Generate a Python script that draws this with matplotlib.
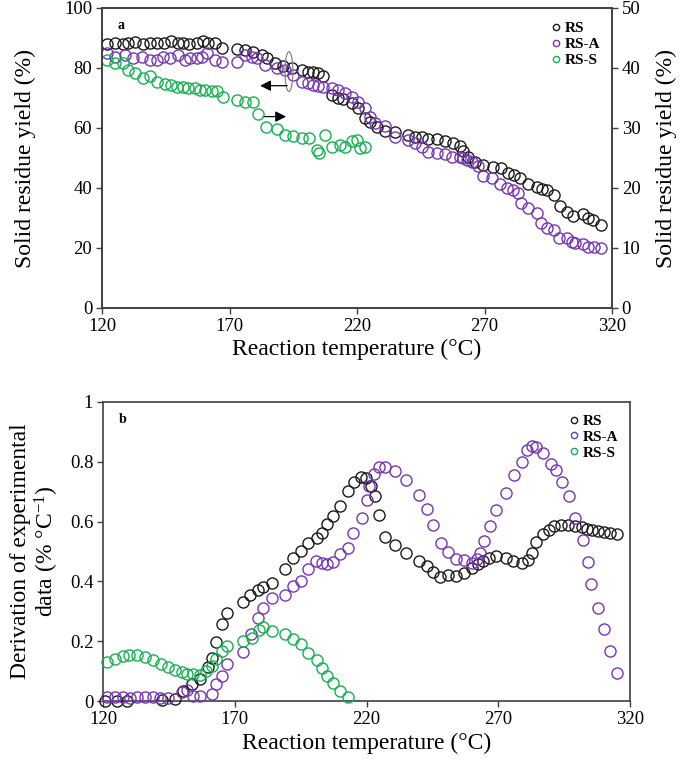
import matplotlib
matplotlib.use("Agg")
import matplotlib.pyplot as plt
from matplotlib.patches import Ellipse
from matplotlib.lines import Line2D

plt.rcParams['font.family'] = ['Liberation Serif', 'DejaVu Serif']
plt.rcParams['mathtext.fontset'] = 'custom'
plt.rcParams['mathtext.rm'] = 'Liberation Serif'
plt.rcParams['mathtext.it'] = 'Liberation Serif:italic'

# ---------------- Data: panel a (solid residue yield) ----------------
rs_a_T = [121.8, 125.1, 128.1, 130.2, 132.9, 135.9, 138.8, 141.4, 144.3, 146.9, 149.8, 151.8,
          154.1, 157.1, 159.5, 161.6, 164.3, 166.9, 172.8, 176.1, 179.3, 182.6, 184.6, 187.8,
          191.0, 194.5, 198.3, 200.9, 202.9, 204.9, 206.8, 210.0, 212.7, 214.6, 217.9, 220.5,
          223.1, 225.1, 227.7, 231.0, 234.9, 240.1, 242.7, 245.4, 248.0, 251.3, 254.5, 257.5,
          260.4, 261.4, 263.7, 266.3, 269.5, 273.2, 276.3, 279.3, 281.6, 283.9, 287.2, 290.5,
          292.4, 294.4, 297.3, 299.6, 302.2, 304.8, 308.5, 310.7, 312.7, 315.6]
rs_a_Y = [88.0, 88.4, 88.0, 88.2, 88.8, 88.0, 88.4, 88.2, 88.4, 89.1, 88.2, 88.4,
          88.0, 88.2, 89.1, 88.4, 88.4, 86.8, 86.2, 86.0, 85.4, 84.3, 83.2, 81.7,
          80.7, 80.0, 79.3, 78.8, 78.8, 78.2, 77.3, 71.0, 69.9, 69.6, 68.2, 66.6,
          63.2, 62.1, 60.4, 59.0, 58.8, 57.7, 57.1, 56.9, 56.2, 56.2, 55.7, 54.9,
          54.0, 52.4, 50.4, 48.8, 47.7, 46.9, 46.6, 45.1, 44.3, 43.2, 41.3, 40.4,
          39.6, 39.3, 37.7, 34.0, 32.1, 30.8, 31.2, 29.9, 29.3, 27.7]

rsa_a_T = [121.8, 125.1, 129.0, 132.3, 135.6, 138.8, 141.4, 144.0, 146.7, 149.9, 152.5, 154.5,
           157.1, 159.1, 161.1, 164.3, 166.9, 172.8, 176.1, 178.7, 180.7, 183.9, 188.5, 191.8,
           195.0, 198.3, 200.9, 202.9, 204.9, 206.8, 210.1, 212.7, 215.3, 217.9, 220.5, 223.1,
           225.1, 227.1, 231.0, 234.9, 240.1, 242.7, 245.4, 248.0, 251.3, 254.5, 257.1, 260.4,
           261.7, 263.0, 265.0, 267.6, 269.3, 272.8, 276.1, 278.7, 281.1, 283.3, 284.2, 287.2,
           290.5, 292.0, 294.4, 297.3, 299.3, 302.2, 304.2, 305.5, 308.8, 310.7, 312.9, 315.6]
rsa_a_Y = [84.9, 83.8, 84.3, 83.2, 83.8, 82.7, 82.7, 83.8, 83.2, 84.3, 82.7, 83.2,
           83.2, 83.8, 84.9, 82.7, 82.1, 82.1, 84.3, 83.8, 83.2, 81.0, 79.9, 79.3,
           77.7, 75.4, 74.9, 74.3, 74.0, 73.6, 73.2, 72.7, 71.6, 70.4, 68.8, 66.6,
           63.8, 61.6, 60.7, 57.1, 56.0, 54.9, 53.8, 52.1, 51.6, 51.3, 50.4, 50.4,
           49.9, 49.3, 48.8, 47.3, 44.0, 43.2, 41.3, 40.1, 39.3, 38.4, 35.1, 33.2,
           31.8, 28.4, 26.6, 26.0, 23.2, 23.2, 22.1, 21.6, 21.2, 20.4, 20.2, 19.9]

rss_a_T = [121.8, 125.1, 128.1, 130.3, 132.9, 135.9, 138.8, 141.7, 144.7, 146.9, 149.5, 151.6,
           153.8, 156.5, 158.4, 160.4, 163.0, 165.0, 167.3, 172.8, 176.1, 179.3, 181.3, 184.3,
           188.7, 191.8, 195.0, 198.3, 201.3, 204.2, 205.2, 207.5, 210.1, 213.3, 215.3, 217.9,
           219.9, 221.2, 223.1]
rss_a_Y = [41.3, 40.8, 40.9, 39.7, 39.1, 38.4, 38.6, 37.7, 37.4, 37.2, 36.9, 36.8,
           36.6, 36.6, 36.4, 36.3, 36.2, 36.1, 35.2, 34.7, 34.4, 34.4, 32.4, 30.2,
           29.9, 28.8, 28.6, 28.4, 28.3, 26.3, 25.9, 28.8, 26.9, 27.2, 26.9, 27.9,
           28.0, 26.6, 26.9]

# ---------------- Data: panel b (derivative) ----------------
rs_b_T = [120.8, 125.2, 129.0, 142.3, 147.3, 150.5, 153.7, 156.8, 160.0, 161.3, 162.9, 165.0,
          167.0, 173.0, 175.8, 178.9, 180.8, 184.0, 189.1, 192.0, 195.0, 197.9, 201.1, 203.0,
          204.9, 207.2, 210.0, 213.1, 215.3, 217.8, 219.8, 221.6, 223.2, 224.9, 227.0, 230.8,
          235.0, 240.0, 242.8, 245.1, 247.9, 251.0, 254.0, 257.0, 259.9, 262.4, 264.3, 266.6,
          269.1, 272.9, 275.7, 278.9, 281.2, 282.7, 284.3, 287.1, 289.4, 291.3, 293.7, 296.6,
          299.1, 301.7, 303.6, 305.5, 308.0, 310.1, 312.4, 315.2]
rs_b_Y = [0.0, 0.0, 0.0, 0.003, 0.006, 0.034, 0.057, 0.073, 0.115, 0.145, 0.198, 0.257,
          0.293, 0.331, 0.353, 0.371, 0.382, 0.396, 0.440, 0.479, 0.501, 0.529, 0.546, 0.562,
          0.593, 0.618, 0.653, 0.701, 0.734, 0.749, 0.746, 0.720, 0.684, 0.623, 0.549, 0.523,
          0.496, 0.468, 0.451, 0.431, 0.416, 0.420, 0.418, 0.429, 0.446, 0.457, 0.468, 0.479,
          0.484, 0.479, 0.468, 0.460, 0.471, 0.496, 0.531, 0.560, 0.573, 0.584, 0.590, 0.590,
          0.584, 0.582, 0.575, 0.571, 0.568, 0.564, 0.562, 0.560]

rsa_b_T = [121.4, 124.6, 127.7, 130.2, 132.8, 135.9, 138.9, 141.6, 144.8, 149.9, 152.0, 154.3,
           156.8, 161.3, 162.9, 165.0, 167.0, 173.0, 176.1, 178.9, 180.8, 184.0, 189.1, 192.0,
           195.0, 197.9, 200.8, 203.0, 204.9, 207.2, 210.0, 213.1, 215.0, 218.2, 220.1, 221.1,
           222.8, 224.9, 227.0, 230.8, 235.0, 240.0, 243.1, 245.1, 248.1, 251.0, 254.0, 257.0,
           259.9, 261.8, 263.1, 264.6, 266.9, 269.1, 272.9, 276.0, 278.9, 280.8, 282.7, 284.3,
           287.1, 289.9, 292.1, 294.1, 296.9, 299.1, 302.0, 304.2, 305.2, 308.0, 310.1, 312.4,
           314.9]
rsa_b_Y = [0.013, 0.013, 0.013, 0.010, 0.013, 0.013, 0.013, 0.010, 0.010, 0.029, 0.038, 0.018,
           0.016, 0.023, 0.057, 0.084, 0.123, 0.164, 0.223, 0.279, 0.312, 0.346, 0.353, 0.384,
           0.403, 0.440, 0.468, 0.460, 0.457, 0.464, 0.490, 0.512, 0.562, 0.612, 0.671, 0.718,
           0.760, 0.782, 0.784, 0.768, 0.740, 0.690, 0.642, 0.590, 0.527, 0.498, 0.476, 0.470,
           0.460, 0.476, 0.496, 0.534, 0.584, 0.638, 0.696, 0.757, 0.801, 0.840, 0.853, 0.849,
           0.831, 0.793, 0.771, 0.731, 0.687, 0.612, 0.538, 0.464, 0.390, 0.312, 0.242, 0.168,
           0.093]

rss_b_T = [121.6, 124.6, 127.7, 130.0, 133.0, 135.9, 138.8, 141.9, 144.8, 147.3, 149.9, 152.0,
           154.3, 156.8, 159.1, 161.3, 162.9, 165.0, 167.2, 173.2, 176.4, 179.3, 180.8, 184.0,
           188.9, 192.0, 195.0, 197.9, 201.1, 203.0, 204.9, 207.2, 210.0, 213.1]
rss_b_Y = [0.129, 0.140, 0.149, 0.153, 0.153, 0.146, 0.138, 0.123, 0.115, 0.104, 0.096, 0.090,
           0.090, 0.087, 0.101, 0.118, 0.140, 0.168, 0.184, 0.201, 0.212, 0.238, 0.246, 0.234,
           0.223, 0.209, 0.190, 0.162, 0.137, 0.112, 0.084, 0.060, 0.034, 0.012]

series_labels = ['RS', 'RS-A', 'RS-S']
colors = ['#1a1a1a', '#7535B5', '#14B150']
x_ticks = [120, 170, 220, 270, 320]

W, H = 685, 770
fig = plt.figure(figsize=(W / 100, H / 100), dpi=100)

def px_axes(l, t, r, b):
    return fig.add_axes([l / W, 1 - b / H, (r - l) / W, (b - t) / H])

spine_c = '#404040'
mk = dict(marker='o', linestyle='none', markersize=8.0, markerfacecolor='none',
          markeredgewidth=1.0, clip_on=False)

def style(ax):
    for s in ax.spines.values():
        s.set_color(spine_c)
        s.set_linewidth(1.2)
    ax.tick_params(direction='out', length=4, width=1.0, color=spine_c,
                   labelsize=13.5, pad=3)

# ---------------- Panel a ----------------
ax1 = px_axes(102, 8, 612, 308)
ax1r = ax1.twinx()
ax1.plot(rs_a_T, rs_a_Y, color=colors[0], markeredgecolor=colors[0], zorder=3, **mk)
ax1.plot(rsa_a_T, rsa_a_Y, color=colors[1], markeredgecolor=colors[1], zorder=4, **mk)
ax1r.plot(rss_a_T, rss_a_Y, color=colors[2], markeredgecolor=colors[2], **mk)
ax1.set_xlim(120, 320)
ax1.set_ylim(0, 100)
ax1r.set_ylim(0, 50)
ax1.set_xticks(x_ticks)
ax1.set_yticks([0, 20, 40, 60, 80, 100])
ax1r.set_yticks([0, 10, 20, 30, 40, 50])
style(ax1)
style(ax1r)
ax1.set_xlabel('Reaction temperature (°C)', fontsize=17, labelpad=3)
ax1.set_ylabel('Solid residue yield (%)', fontsize=17, labelpad=20)
ax1r.set_ylabel('Solid residue yield (%)', fontsize=17, labelpad=11)
ax1.text(0.03, 0.93, 'a', transform=ax1.transAxes, fontsize=10, fontweight='bold')

ell = Ellipse((193.3, 78.8), 3.1, 13.3, facecolor='none', edgecolor='#888888', lw=0.9, zorder=6)
ax1.add_patch(ell)
ax1.annotate('', xy=(182.0, 74.1), xytext=(192.6, 74.1),
             arrowprops=dict(arrowstyle='-|>', color='black', lw=0.9, mutation_scale=16,
                             shrinkA=0, shrinkB=0), zorder=6)
ax1.annotate('', xy=(192.2, 63.8), xytext=(183.2, 63.8),
             arrowprops=dict(arrowstyle='-|>', color='black', lw=0.9, mutation_scale=16,
                             shrinkA=0, shrinkB=0), zorder=6)

handles = [Line2D([], [], marker='o', linestyle='none', markersize=4.5, markerfacecolor='none',
                  markeredgecolor=c, markeredgewidth=1.0) for c in colors]
ax1r.legend(handles, series_labels, loc='upper right', bbox_to_anchor=(0.995, 0.985),
            frameon=False, handletextpad=0.1, labelspacing=0.15,
            handlelength=1.0, borderaxespad=0.2, prop={'weight': 'bold', 'size': 11})

# ---------------- Panel b ----------------
ax2 = px_axes(103, 402, 630, 701)
ax2.plot(rs_b_T, rs_b_Y, color=colors[0], markeredgecolor=colors[0], zorder=3, **mk)
ax2.plot(rsa_b_T, rsa_b_Y, color=colors[1], markeredgecolor=colors[1], zorder=4, **mk)
ax2.plot(rss_b_T, rss_b_Y, color=colors[2], markeredgecolor=colors[2], zorder=5, **mk)
ax2.set_xlim(120, 320)
ax2.set_ylim(0, 1)
ax2.set_xticks(x_ticks)
ax2.set_yticks([0, 0.2, 0.4, 0.6, 0.8, 1])
ax2.set_yticklabels(['0', '0.2', '0.4', '0.6', '0.8', '1'])
style(ax2)
ax2.tick_params(right=False, top=False)
ax2.set_xlabel('Reaction temperature (°C)', fontsize=17, labelpad=4)
ax2.set_ylabel('Derivation of experimental\ndata (% °C$^{-1}$)', fontsize=17, labelpad=6,
               linespacing=1.1)
ax2.text(0.03, 0.93, 'b', transform=ax2.transAxes, fontsize=10, fontweight='bold')
ax2.legend(handles, series_labels, loc='upper right', bbox_to_anchor=(0.995, 0.99),
           frameon=False, handletextpad=0.1, labelspacing=0.15, handlelength=1.0,
           borderaxespad=0.2, prop={'weight': 'bold', 'size': 11})

fig.savefig('out.png', dpi=100)
